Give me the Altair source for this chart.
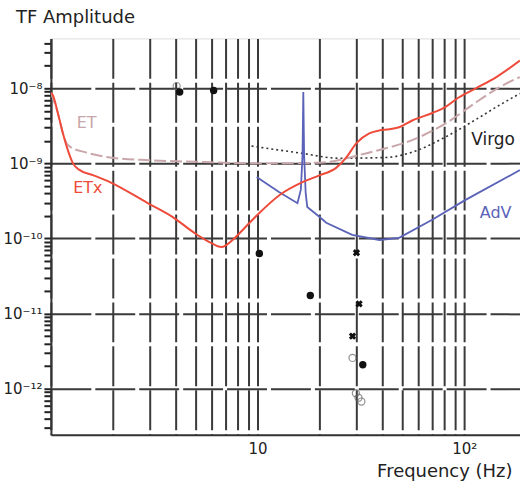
import altair as alt
import pandas as pd

# ---------------- data ----------------
etx_f = [1.0, 1.022, 1.081, 1.143, 1.208, 1.277, 1.38, 1.595, 1.93, 2.94, 3.89, 4.96,
         5.85, 6.7, 7.57, 8.65, 10.2, 12.8, 16.5, 19.9, 24.0, 26.9, 30.1, 34.7, 38.9,
         42.0, 48.4, 56.0, 70.1, 81.0, 94.5, 114.0, 143.0, 186.0]
etx_amp = [8.71e-9, 8.07e-9, 4.66e-9, 2.52e-9, 1.50e-9, 1.007e-9, 8.13e-10, 6.98e-10,
           5.64e-10, 2.96e-10, 1.93e-10, 1.18e-10, 8.97e-11, 7.71e-11, 9.55e-11, 1.38e-10,
           2.19e-10, 3.80e-10, 5.62e-10, 6.92e-10, 8.71e-10, 1.20e-9, 1.86e-9, 2.51e-9,
           2.75e-9, 2.82e-9, 3.02e-9, 3.72e-9, 4.68e-9, 5.62e-9, 7.59e-9, 1.0e-8, 1.41e-8,
           2.34e-8]

et_f = [1.0, 1.081, 1.143, 1.19, 1.24, 1.46, 1.93, 3.0, 5.0, 10.0, 20.0, 27.0, 31.0,
        38.9, 56.0, 81.0, 118.0, 147.0, 186.0]
et_amp = [8.71e-9, 4.66e-9, 2.52e-9, 1.86e-9, 1.66e-9, 1.41e-9, 1.20e-9, 1.10e-9, 1.05e-9,
          1.0e-9, 1.02e-9, 1.17e-9, 1.29e-9, 1.51e-9, 2.04e-9, 3.39e-9, 6.92e-9, 1.02e-8,
          1.41e-8]

virgo_f = [9.35, 15.9, 25.0, 42.0, 56.0, 81.0, 118.0, 147.0, 186.0]
virgo_amp = [1.70e-9, 1.38e-9, 1.17e-9, 1.20e-9, 1.41e-9, 2.24e-9, 4.07e-9, 5.89e-9, 8.51e-9]

adv_f = [9.9, 12.7, 15.6, 16.2, 16.5, 16.65, 16.8, 17.1, 17.4, 19.9, 21.5, 28.7, 38.9,
         48.4, 70.0, 101.0, 186.0]
adv_amp = [6.61e-10, 4.17e-10, 2.95e-10, 4.47e-10, 1.26e-9, 8.91e-9, 1.26e-9, 3.98e-10,
           2.63e-10, 1.95e-10, 1.62e-10, 1.12e-10, 9.55e-11, 1.02e-10, 1.78e-10, 3.24e-10,
           8.13e-10]

filled_f = [4.2, 6.13, 10.2, 18.0, 32.3]
filled_amp = [8.91e-9, 9.33e-9, 6.31e-11, 1.74e-11, 2.09e-12]

open_f = [4.06, 28.8, 29.9, 30.8, 31.8]
open_amp = [1.07e-8, 2.57e-12, 8.71e-13, 7.59e-13, 6.76e-13]

cross_f = [30.1, 31.0, 28.8]
cross_amp = [6.46e-11, 1.35e-11, 5.01e-12]

label_text = ["ET", "ETx", "Virgo", "AdV"]
label_f = [1.49, 1.51, 138.0, 142.0]
label_amp = [3.43e-9, 4.68e-10, 2.04e-9, 2.19e-10]
label_color = ["#c6a6aa", "#ee4b3b", "#222222", "#5a63b8"]
label_size = [16, 16, 17, 16]

x_grid_values = [1, 2, 3, 4, 5, 6, 7, 8, 9, 10, 20, 30, 40, 50, 60, 70, 80, 90, 100]
y_decades = [-8, -9, -10, -11, -12]
y_decade_labels = ["10⁻⁸", "10⁻⁹", "10⁻¹⁰", "10⁻¹¹", "10⁻¹²"]
y_minor_factors = [2, 3, 4, 5, 6, 7, 8, 9]

X_DOMAIN = [1.0, 186.2]
Y_DOMAIN = [2.45e-13, 4.61e-8]
W, H = 470, 397
FONT = "DejaVu Sans"
GRID_COLOR = "#3a3a3a"

# ---------------- tables ----------------
def line_df(f, a):
    return pd.DataFrame({"f": f, "amp": a})

etx_df = line_df(etx_f, etx_amp)
et_df = line_df(et_f, et_amp)
virgo_df = line_df(virgo_f, virgo_amp)
adv_df = line_df(adv_f, adv_amp)
filled_df = line_df(filled_f, filled_amp)
open_df = line_df(open_f, open_amp)
cross_df = line_df(cross_f, cross_amp)
labels_df = pd.DataFrame({"t": label_text, "f": label_f, "amp": label_amp,
                          "c": label_color, "s": label_size})

# decade test used for labels and for the horizontal grid lines
is_decade = "abs(log(datum.value)/LN10 - round(log(datum.value)/LN10)) < 0.001"
y_label_expr = " : ".join(
    f"abs(log(datum.value)/LN10 - ({e})) < 0.01 ? '{t}'" for e, t in zip(y_decades, y_decade_labels)
) + " : ''"
y_major_values = [10.0 ** e for e in y_decades]
y_minor_values = [k * 10.0 ** e for e in range(-13, -7) for k in y_minor_factors
                  if Y_DOMAIN[0] <= k * 10.0 ** e <= Y_DOMAIN[1]]
y_tick_values = sorted(y_major_values + y_minor_values)

x_scale = alt.Scale(type="log", domain=X_DOMAIN, nice=False)
y_scale = alt.Scale(type="log", domain=Y_DOMAIN, nice=False)

x_axis = alt.Axis(
    values=x_grid_values,
    labelExpr="datum.value == 10 ? '10' : (datum.value == 100 ? '10²' : '')",
    grid=True, gridColor=GRID_COLOR, gridWidth=2, gridDash=[40, 4],
    ticks=False, domainColor="#333333", domainWidth=2,
    labelFont=FONT, labelFontSize=15, labelColor="#222222", labelPadding=7,
    labelFlush=False, labelOverlap=False,
    title="Frequency (Hz)", titleFont=FONT, titleFontSize=18, titleFontWeight="normal",
    titleColor="#222222", titleAnchor="end", titleAlign="right",
    titleBaseline="alphabetic", titleX=462, titleY=42,
)
y_axis = alt.Axis(
    values=y_tick_values, labelExpr=y_label_expr,
    grid=True, gridColor=GRID_COLOR, gridWidth=2, gridDash=[40, 4],
    gridOpacity={"condition": {"test": is_decade, "value": 1}, "value": 0},
    ticks=True, tickSize=7, tickWidth=2, tickColor="#222222",
    domainColor="#333333", domainWidth=2,
    labelFont=FONT, labelFontSize=15, labelColor="#222222", labelPadding=2,
    labelFlush=False, labelOverlap=False, title=None,
)

X = alt.X("f:Q", scale=x_scale, axis=x_axis)
Y = alt.Y("amp:Q", scale=y_scale, axis=y_axis)


def line(df, color, width, dash=None):
    kw = dict(color=color, strokeWidth=width, clip=True, interpolate="monotone")
    if dash:
        kw["strokeDash"] = dash
    return alt.Chart(df).mark_line(**kw).encode(x=X, y=Y, order="f:Q")


virgo = line(virgo_df, "#333333", 1.6, [2, 3])
et = line(et_df, "#c9a6aa", 2, [12, 4])
adv = alt.Chart(adv_df).mark_line(color="#5a63b8", strokeWidth=1.8, clip=True).encode(x=X, y=Y, order="f:Q")
etx = line(etx_df, "#ee4b3b", 2)

filled = alt.Chart(filled_df).mark_point(filled=True, color="#111111", size=55, opacity=1).encode(x=X, y=Y)
opened = alt.Chart(open_df).mark_point(filled=False, color="#666666", size=50, strokeWidth=1.2).encode(x=X, y=Y)
crosses = alt.Chart(cross_df).mark_point(shape="cross", angle=45, filled=True, color="#111111",
                                         size=55, opacity=1).encode(x=X, y=Y)
texts = alt.Chart(labels_df).mark_text(font=FONT, align="center", baseline="middle").encode(
    x=X, y=Y, text="t:N",
    color=alt.Color("c:N", scale=None),
    size=alt.Size("s:Q", scale=None),
)

chart = alt.layer(virgo, et, adv, etx, opened, filled, crosses, texts).properties(
    width=W, height=H,
    autosize=alt.AutoSizeParams(type="none"),
    padding={"left": 51, "top": 38, "right": 0, "bottom": 51},
    title=alt.TitleParams("TF Amplitude", anchor="start", frame="group", dx=-35, offset=9,
                          font=FONT, fontSize=18, fontWeight="normal", color="#222222"),
).configure_view(stroke="#333333", strokeWidth=2, fill="#f8fbfd").configure(background="white")

chart.save("out.html", embed_options={"renderer": "svg", "actions": False})
